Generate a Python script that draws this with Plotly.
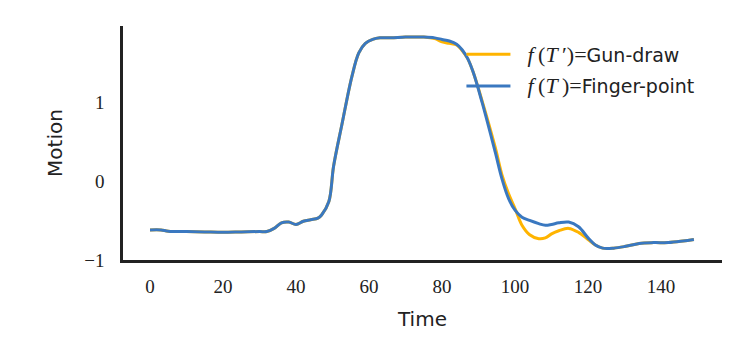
import plotly.graph_objects as go

# time samples (frames) and motion values
time = [0, 3, 5, 10, 15, 20, 25, 30, 32, 34, 36, 38, 40, 42, 44, 46, 47, 49,
        50.3, 52.6, 55.3, 57.2, 59, 61, 63, 66, 70, 75, 78, 80, 82, 84, 85.5,
        87, 88.5, 91, 94.6, 96.4, 98.3, 100, 101.9, 104, 106.5, 108.3, 110,
        112, 114.7, 117.4, 120, 122, 124, 127, 130, 134, 138, 142, 146, 149]

finger_point = [-0.62, -0.62, -0.635, -0.64, -0.645, -0.65, -0.645, -0.64,
                -0.64, -0.60, -0.53, -0.52, -0.55, -0.51, -0.49, -0.47, -0.43,
                -0.26, 0.19, 0.72, 1.32, 1.62, 1.74, 1.79, 1.81, 1.81, 1.82,
                1.82, 1.81, 1.79, 1.77, 1.73, 1.66, 1.55, 1.38, 0.99, 0.36,
                0.03, -0.23, -0.37, -0.46, -0.50, -0.54, -0.56, -0.55, -0.53,
                -0.52, -0.58, -0.72, -0.81, -0.85, -0.85, -0.83, -0.79, -0.78,
                -0.78, -0.76, -0.74]

gun_draw = [-0.62, -0.62, -0.635, -0.64, -0.645, -0.65, -0.645, -0.64,
            -0.64, -0.60, -0.53, -0.52, -0.55, -0.51, -0.49, -0.47, -0.43,
            -0.26, 0.19, 0.72, 1.32, 1.62, 1.74, 1.79, 1.81, 1.81, 1.82,
            1.82, 1.80, 1.76, 1.74, 1.72, 1.65, 1.55, 1.38, 1.01, 0.42,
            0.08, -0.17, -0.35, -0.56, -0.68, -0.73, -0.72, -0.67, -0.63,
            -0.60, -0.65, -0.74, -0.81, -0.85, -0.85, -0.83, -0.79, -0.78,
            -0.78, -0.76, -0.74]

math = "font-family:'Liberation Serif';font-size:22px;"
label_gun = f"\u00a0\u00a0<span style=\"{math}\"><i>f</i>\u2009(<i>T</i>\u2009′)=</span>Gun-draw"
label_finger = f"\u00a0\u00a0<span style=\"{math}\"><i>f</i>\u2009(<i>T</i>\u2009)=</span>Finger-point"

fig = go.Figure()
fig.add_trace(go.Scatter(x=time, y=gun_draw, mode="lines", name=label_gun,
                         line=dict(color="#ffb400", width=3, shape="spline"),
                         legendgroup="a"))
fig.add_trace(go.Scatter(x=time, y=finger_point, mode="lines", name=label_finger,
                         line=dict(color="#3a78c0", width=3, shape="spline"),
                         legendgroup="b"))

fig.update_layout(
    width=747, height=355,
    margin=dict(l=115, r=33, t=18, b=103),
    plot_bgcolor="white", paper_bgcolor="white",
    font=dict(family="DejaVu Sans", size=20, color="#222222"),
    showlegend=True,
    legend=dict(x=0.565, y=0.96, xanchor="left", yanchor="top",
                bgcolor="rgba(0,0,0,0)", font=dict(size=19),
                itemwidth=44,
                traceorder="grouped", tracegroupgap=4),
    xaxis=dict(range=[-7.4, 156.7], tickvals=[0, 20, 40, 60, 80, 100, 120, 140],
               showgrid=False, zeroline=False, showline=True, linecolor="#222222",
               linewidth=2.5, ticks="", ticklen=0, automargin=False,
               ticklabelstandoff=7,
               tickfont=dict(family="Liberation Serif", size=19),
               title=dict(text="Time", font=dict(size=20), standoff=17)),
    yaxis=dict(range=[-1, 1.96], tickvals=[-1, 0, 1], ticktext=["−1", "0", "1"],
               showgrid=False, zeroline=False, showline=True, linecolor="#222222",
               linewidth=2.5, ticks="", ticklen=0, automargin=False,
               ticklabelstandoff=12,
               tickfont=dict(family="Liberation Serif", size=19),
               title=dict(text="Motion", font=dict(size=20), standoff=17)),
)

fig.write_html("out.html")
